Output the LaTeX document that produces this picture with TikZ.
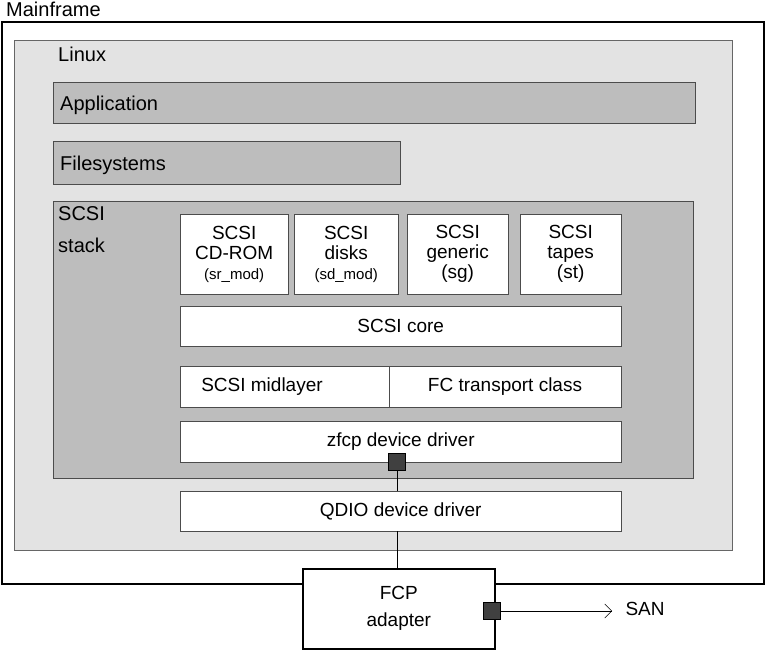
\documentclass[tikz,border=0pt]{standalone}
\usepackage{fontspec}
\setmainfont{Liberation Sans}
\usetikzlibrary{positioning,arrows.meta}
\definecolor{linuxgray}{HTML}{E3E3E3}
\definecolor{layergray}{HTML}{BDBDBD}
\definecolor{portgray}{HTML}{404040}
\tikzset{
  layer/.style={draw=black!70, fill=layergray, anchor=north west, inner sep=0pt},
  module/.style={draw=black!70, fill=white, anchor=north west, inner sep=0pt, align=center, font=\fontsize{19}{20}\selectfont},
  tag/.style={font=\fontsize{20}{20}\selectfont, anchor=north west, inner sep=0pt},
  port/.style={draw=black, fill=portgray, minimum size=17pt, inner sep=0pt},
}
\begin{document}
\begin{tikzpicture}[x=1pt,y=-1pt]
\useasboundingbox (0,0) rectangle (766,650);
% outer boxes
\draw[line width=1.6pt] (2,22) rectangle (764,584);
\node[tag] (mf) at (6,2) {Mainframe};
\draw[draw=black!60, fill=linuxgray] (14,40) rectangle (732,550);
\node[tag] (linux) at (58,47) {Linux};
\node[layer, minimum width=642pt, minimum height=41pt] (app) at (53,82) {};
\node[tag, anchor=west] at ([xshift=7pt,yshift=-3pt]app.west) {Application};
\node[layer, minimum width=347pt, minimum height=43pt] (fs) at (53,141) {};
\node[tag, anchor=west] at ([xshift=7pt,yshift=-3pt]fs.west) {Filesystems};
\node[layer, minimum width=640pt, minimum height=277pt] (stack) at (53,201) {};
\node[tag, align=left, font=\fontsize{20}{32}\selectfont] at (58,206) {SCSI\\stack};
% upper drivers
\node[module, minimum width=108pt, minimum height=80pt] (cdrom) at (180,214) {SCSI\\CD-ROM\\{\fontsize{15}{15}\selectfont(sr\_mod)}};
\node[module, minimum width=104pt, minimum height=80pt] (disks) at (294,214) {SCSI\\disks\\{\fontsize{15}{15}\selectfont(sd\_mod)}};
\node[module, minimum width=101pt, minimum height=80pt] (generic) at (407,214) {SCSI\\generic\\(sg)};
\node[module, minimum width=101pt, minimum height=80pt] (tapes) at (520,214) {SCSI\\tapes\\(st)};
% layers
\node[module, minimum width=441pt, minimum height=40pt] (core) at (180,306) {SCSI core};
\node[module, minimum width=441pt, minimum height=41pt] (mid) at (180,366) {};
\draw[black!70] (389,366) -- (389,407);
\node[font=\fontsize{19}{19}\selectfont] at (262,386.5) {SCSI midlayer};
\node[font=\fontsize{19}{19}\selectfont] at (505,386.5) {FC transport class};
\node[module, minimum width=441pt, minimum height=41pt] (zfcp) at (180,421) {zfcp device driver};
\node[module, minimum width=441pt, minimum height=40pt] (qdio) at (180,491) {QDIO device driver};
% adapter
\node[draw, line width=1.6pt, fill=white, minimum width=192pt, minimum height=80pt, align=center, font=\fontsize{19}{19}\selectfont, anchor=north west] (fcp) at (302,568) {FCP\\[8pt]adapter};
\node[port] (zport) at (397,462) {};
\node[port] (fport) at (492,611) {};
\coordinate (sanend) at (612,611);
\node[font=\fontsize{19}{19}\selectfont, anchor=west] (san) at (622,609) {SAN};
\draw (zport.south) -- (qdio.north -| zport);
\draw (qdio.south -| zport) -- (fcp.north -| zport);
\draw[-{Straight Barb[length=7pt]}] (fport.east) -- (sanend);
\end{tikzpicture}
\end{document}
